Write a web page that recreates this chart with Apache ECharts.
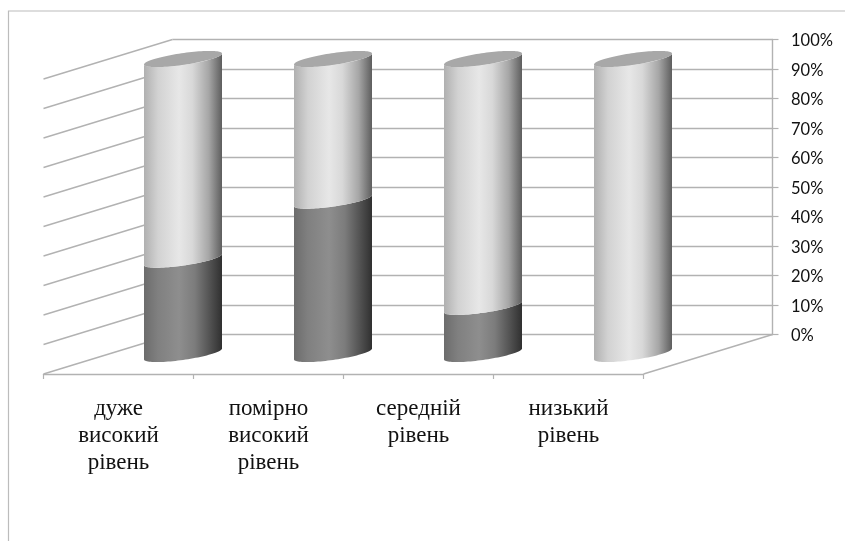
<!DOCTYPE html>
<html>
<head>
<meta charset="utf-8">
<style>html,body{margin:0;padding:0;background:#fff}#chart{width:845px;height:541px}</style>
<script src="https://cdn.jsdelivr.net/npm/echarts@6/dist/echarts.min.js"></script>
</head>
<body>
<div id="chart"></div>
<script>
// Share of respondents per level, stacked to 100%
const categories = ['дуже\nвисокий\nрівень', 'помірно\nвисокий\nрівень', 'середній\nрівень', 'низький\nрівень'];
const lowerValues = [32, 52, 16, 0];
const upperValues = [68, 48, 84, 100];
const tickValues = [0, 10, 20, 30, 40, 50, 60, 70, 80, 90, 100];

const LINE = '#b2b2b2';
const DEPTH_X = 129, DEPTH_Y = 39.5;
const RADIUS = 0.26, TILT = 0.054;

const lowerRamp = [[0, '#6c6c6c'], [0.18, '#808080'], [0.45, '#8e8e8e'], [0.65, '#7c7c7c'], [0.85, '#515151'], [1, '#303030']];
const upperRamp = [[0, '#b0b0b0'], [0.18, '#d2d2d2'], [0.45, '#e7e7e7'], [0.62, '#d8d8d8'], [0.83, '#a6a6a6'], [1, '#5e5e5e']];

function ramp(stops) {
  return { type: 'linear', x: 0, y: 0, x2: 1, y2: 0,
    colorStops: stops.map(s => ({ offset: s[0], color: s[1] })) };
}

// Oblique projection of a circle lying in the floor plane
function ellipseAxes(band) {
  const by = -TILT * band;
  const bx = by * (-DEPTH_X / DEPTH_Y);
  const a = Math.sqrt(Math.pow(RADIUS * band, 2) - bx * bx);
  return { a, bx, by, phase: Math.atan2(bx, a) };
}
function ellipsePoint(c, e, t) {
  return [c[0] + e.a * Math.cos(t) + e.bx * Math.sin(t), c[1] + e.by * Math.sin(t)];
}

function cylinderSegment(stops, withCap) {
  return function (params, api) {
    const from = api.value(1), to = api.value(2);
    if (to <= from) return null;
    const e = ellipseAxes(api.size([1, 0])[0]);
    const c0 = api.coord([api.value(0), from]);
    const c1 = api.coord([api.value(0), to]);
    const steps = 48, body = [], cap = [];
    for (let i = 0; i <= steps; i++) {
      body.push(ellipsePoint(c0, e, e.phase + Math.PI + Math.PI * i / steps));
    }
    for (let i = steps; i >= 0; i--) {
      body.push(ellipsePoint(c1, e, e.phase + Math.PI + Math.PI * i / steps));
    }
    for (let i = 0; i < steps * 2; i++) {
      cap.push(ellipsePoint(c1, e, Math.PI * i / steps));
    }
    const children = [{ type: 'polygon', shape: { points: body }, style: { fill: ramp(stops) } }];
    if (withCap) {
      children.push({ type: 'polygon', shape: { points: cap }, style: { fill: '#a8a8a8' } });
    }
    return { type: 'group', children };
  };
}

// Receding lines on the side wall and the right edge of the floor
function wallLine(params, api) {
  const p = api.coord([api.value(0), api.value(1)]);
  return { type: 'line',
    shape: { x1: p[0], y1: p[1], x2: p[0] - DEPTH_X, y2: p[1] + DEPTH_Y },
    style: { stroke: LINE, lineWidth: 1.4 } };
}

const wallData = tickValues.map(v => [0, v]).concat([[1, 0]]);

const lowerData = lowerValues.map((v, i) => [i, 0, v]);
const upperData = upperValues.map((v, i) => [i, lowerValues[i], lowerValues[i] + v]);

const hiddenParts = { axisLine: { show: false }, axisTick: { show: false }, axisLabel: { show: false }, splitLine: { show: false } };

const chart = echarts.init(document.getElementById('chart'));
chart.setOption({
  animation: false,
  backgroundColor: '#ffffff',
  tooltip: { show: false },
  graphic: [{
    type: 'polyline', silent: true,
    shape: { points: [[8.5, 541], [8.5, 11], [845, 11]] },
    style: { stroke: '#bcbcbc', lineWidth: 1.2, fill: null }
  }],
  grid: [
    { left: 172.5, top: 39.5, width: 600, height: 295 },  // back wall
    { left: 43.5, top: 79, width: 600, height: 295 },     // front edge of the floor
    { left: 108, top: 59, width: 600, height: 295 }       // plane through the cylinder axes
  ],
  xAxis: [
    Object.assign({ gridIndex: 0, type: 'value', min: 0, max: 1 }, hiddenParts),
    {
      gridIndex: 1, type: 'category', data: categories, boundaryGap: true,
      axisLine: { show: true, lineStyle: { color: LINE, width: 1.4 } },
      axisTick: { show: true, alignWithLabel: false, length: 5, lineStyle: { color: LINE, width: 1.2 } },
      axisLabel: { margin: 21, interval: 0, color: '#111', fontFamily: 'Liberation Serif', fontSize: 23, lineHeight: 27 }
    },
    Object.assign({ gridIndex: 2, type: 'category', data: categories }, hiddenParts)
  ],
  yAxis: [
    {
      gridIndex: 0, type: 'value', position: 'right', min: 0, max: 100, interval: 10,
      axisLine: { show: true, onZero: false, lineStyle: { color: LINE, width: 1.4 } },
      axisTick: { show: true, length: 6, lineStyle: { color: LINE, width: 1.2 } },
      splitLine: { show: true, lineStyle: { color: LINE, width: 1.4 } },
      axisLabel: { margin: 18.5, color: '#111', fontFamily: 'Lato', fontSize: 16.5, align: 'left', verticalAlign: 'top', lineHeight: 3, formatter: '{value}%' }
    },
    Object.assign({ gridIndex: 1, type: 'value', min: 0, max: 100 }, hiddenParts),
    Object.assign({ gridIndex: 2, type: 'value', min: 0, max: 100 }, hiddenParts)
  ],
  series: [
    { type: 'custom', name: 'walls', xAxisIndex: 0, yAxisIndex: 0, z: 1, silent: true, renderItem: wallLine, data: wallData },
    { type: 'custom', name: 'lower', xAxisIndex: 2, yAxisIndex: 2, z: 3, silent: true, renderItem: cylinderSegment(lowerRamp, false), data: lowerData },
    { type: 'custom', name: 'upper', xAxisIndex: 2, yAxisIndex: 2, z: 4, silent: true, renderItem: cylinderSegment(upperRamp, true), data: upperData }
  ]
});
</script>
</body>
</html>
